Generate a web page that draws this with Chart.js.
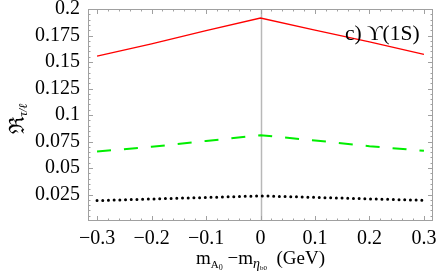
<!DOCTYPE html>
<html><head><meta charset="utf-8">
<script src="https://cdn.jsdelivr.net/npm/chart.js@4/dist/chart.umd.min.js"></script>
<style>html,body{margin:0;padding:0;background:#fff}#wrap{width:437px;height:273px;position:relative}</style>
</head><body><div id="wrap"><canvas id="c" width="437" height="273"></canvas></div>
<script>
// ---- data ----
const massDiff = [-0.3, -0.2, -0.1, 0, 0.1, 0.2, 0.3];
const seriesRed   = [0.1555, 0.1670, 0.1795, 0.1915, 0.1800, 0.1690, 0.1572];
const seriesGreen = [0.0655, 0.0700, 0.0755, 0.0810, 0.0760, 0.0705, 0.0662];
const seriesBlack = [0.0193, 0.0208, 0.0222, 0.0237, 0.0223, 0.0209, 0.0195];
const xTickValues = [-0.3, -0.2, -0.1, 0, 0.1, 0.2, 0.3];
const xTickLabels = ['\u22120.3', '\u22120.2', '\u22120.1', '0', '0.1', '0.2', '0.3'];
const yTickValues = [0.025, 0.05, 0.075, 0.1, 0.125, 0.15, 0.175, 0.2];
const yTickLabels = ['0.025', '0.05', '0.075', '0.1', '0.125', '0.15', '0.175', '0.2'];
const annotationText = 'c) \u03D2(1S)';

const pts = arr => massDiff.map((x, i) => ({x, y: arr[i]}));
const SERIF = '"Liberation Serif","Times New Roman",serif';

const framePlugin = {
  id: 'frame',
  beforeDatasetsDraw(chart) {
    const {ctx, chartArea: a, scales: {x, y}} = chart;
    ctx.save();
    const x0 = Math.round(x.getPixelForValue(0)) + 0.5;
    ctx.strokeStyle = '#b8b8b8'; ctx.lineWidth = 1.5;
    ctx.beginPath(); ctx.moveTo(x0, a.top); ctx.lineTo(x0, a.bottom); ctx.stroke();
    ctx.strokeStyle = '#a0a0a0'; ctx.lineWidth = 1;
    ctx.strokeRect(a.left + 0.5, a.top + 0.5, a.right - a.left - 1, a.bottom - a.top - 1);
    ctx.beginPath();
    const xt = (v, len) => { const p = Math.round(x.getPixelForValue(v)) + 0.5;
      ctx.moveTo(p, a.bottom); ctx.lineTo(p, a.bottom - len);
      ctx.moveTo(p, a.top); ctx.lineTo(p, a.top + len); };
    const yt = (v, len) => { const p = Math.round(y.getPixelForValue(v)) + 0.5;
      ctx.moveTo(a.left, p); ctx.lineTo(a.left + len, p);
      ctx.moveTo(a.right, p); ctx.lineTo(a.right - len, p); };
    xTickValues.forEach(v => xt(v, 5));
    yTickValues.forEach(v => yt(v, 5));
    for (let k = -16; k <= 16; k++) { const v = k * 0.02; if (Math.abs(k % 5) !== 0 && v > x.min && v < x.max) xt(v, 2.5); }
    for (let k = 1; k < 40; k++) { if (k % 5 !== 0) yt(k * 0.005, 2.5); }
    ctx.stroke();
    ctx.restore();
  },
  afterDraw(chart) {
    const {ctx, chartArea: a} = chart;
    ctx.save();
    ctx.fillStyle = '#000';
    ctx.textBaseline = 'alphabetic';
    const segs = [
      {t: 'm', f: `19px ${SERIF}`, dy: 0},
      {t: 'A', f: `11px ${SERIF}`, dy: 4},
      {t: '0', f: `8px ${SERIF}`, dy: 6},
      {t: ' \u2212m', f: `19px ${SERIF}`, dy: 0},
      {t: '\u03B7', f: `italic 14px ${SERIF}`, dy: 4},
      {t: 'b0', f: `7px ${SERIF}`, dy: 6},
      {t: '  (GeV)', f: `19px ${SERIF}`, dy: 0},
    ];
    let w = 0;
    segs.forEach(s => { ctx.font = s.f; s.w = ctx.measureText(s.t).width; w += s.w; });
    let cx = (a.left + a.right) / 2 - w / 2;
    const by = 264;
    segs.forEach(s => { ctx.font = s.f; ctx.fillText(s.t, cx, by + s.dy); cx += s.w; });
    ctx.save();
    ctx.translate(24, 119);
    ctx.rotate(-Math.PI / 2);
    const ys = [
      {t: '\u211C', f: `21px "DejaVu Serif",serif`, dy: 0},
      {t: '\u03C4/\u2113', f: `italic 12px ${SERIF}`, dy: 3},
    ];
    let yw = 0;
    ys.forEach(s => { ctx.font = s.f; s.w = ctx.measureText(s.t).width; yw += s.w; });
    let yx = -yw / 2;
    ys.forEach(s => { ctx.font = s.f; ctx.fillText(s.t, yx, s.dy); yx += s.w; });
    ctx.restore();
    ctx.font = `21.5px ${SERIF}`;
    ctx.fillText(annotationText, 345, 40);
    ctx.restore();
  }
};

new Chart(document.getElementById('c'), {
  type: 'scatter',
  data: {
    datasets: [
      {data: pts(seriesRed), showLine: true, borderColor: '#ff0000', borderWidth: 1.3, pointRadius: 0, fill: false},
      {data: pts(seriesGreen), showLine: true, borderColor: '#00ee00', borderWidth: 2, borderDash: [14, 13], pointRadius: 0, fill: false},
      {data: pts(seriesBlack), showLine: true, borderColor: '#000000', borderWidth: 3, borderDash: [0, 5.7], borderCapStyle: 'round', pointRadius: 0, fill: false},
    ]
  },
  options: {
    responsive: false,
    animation: false,
    devicePixelRatio: 1,
    layout: {padding: {top: 9, right: 4, left: 0, bottom: 0}},
    plugins: {legend: {display: false}, tooltip: {enabled: false}},
    scales: {
      x: {
        type: 'linear', min: -0.3166, max: 0.3166,
        grid: {display: false, drawTicks: false},
        border: {display: false},
        afterBuildTicks: s => { s.ticks = xTickValues.map(v => ({value: v})); },
        afterFit: s => { s.height = 52; s.paddingLeft = 0; s.paddingRight = 0; },
        ticks: {color: '#000', padding: 6, font: {family: SERIF, size: 20},
          callback: (v) => { const i = xTickValues.findIndex(t => Math.abs(t - v) < 1e-9); return i >= 0 ? xTickLabels[i] : ''; },
          maxRotation: 0, autoSkip: false}
      },
      y: {
        type: 'linear', min: 0, max: 0.2,
        grid: {display: false, drawTicks: false},
        border: {display: false},
        afterBuildTicks: s => { s.ticks = yTickValues.map(v => ({value: v})); },
        afterFit: s => { s.width = 88; s.paddingTop = 0; s.paddingBottom = 0; },
        ticks: {color: '#000', padding: 8, font: {family: SERIF, size: 20},
          callback: (v) => { const i = yTickValues.findIndex(t => Math.abs(t - v) < 1e-9); return i >= 0 ? yTickLabels[i] : ''; },
          autoSkip: false}
      }
    }
  },
  plugins: [framePlugin]
});
</script>
</body></html>
